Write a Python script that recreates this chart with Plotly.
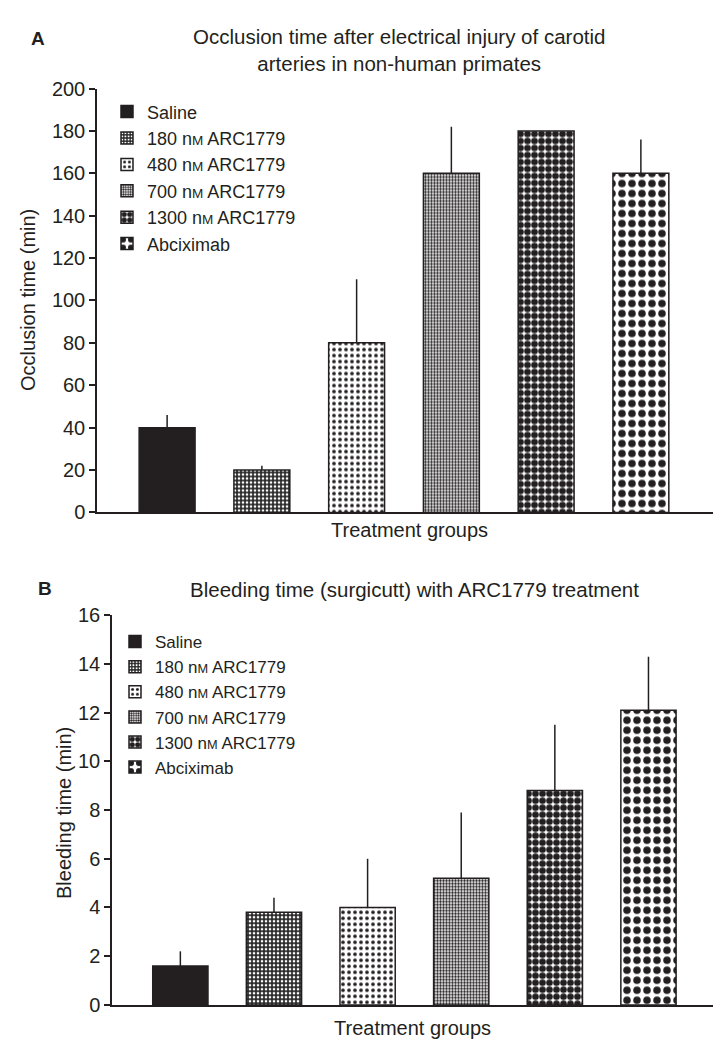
import plotly.graph_objects as go

groups = ["Saline", "180 nM ARC1779", "480 nM ARC1779", "700 nM ARC1779", "1300 nM ARC1779", "Abciximab"]
legend_labels = ["Saline", "180 n<span style='font-size:0.75em'>M</span> ARC1779",
                 "480 n<span style='font-size:0.75em'>M</span> ARC1779",
                 "700 n<span style='font-size:0.75em'>M</span> ARC1779",
                 "1300 n<span style='font-size:0.75em'>M</span> ARC1779", "Abciximab"]
occlusion_mean = [40, 20, 80, 160, 180, 160]
occlusion_sd = [6, 2, 30, 22, 0, 16]
bleeding_mean = [1.6, 3.8, 4.0, 5.2, 8.8, 12.1]
bleeding_sd = [0.6, 0.6, 2.0, 2.7, 2.7, 2.2]
occlusion_ticks = [0, 20, 40, 60, 80, 100, 120, 140, 160, 180, 200]
bleeding_ticks = [0, 2, 4, 6, 8, 10, 12, 14, 16]

DARK = "#231f20"
# pattern styles per group: (bg, fg, shape, size, solidity)
styles = [
    (DARK, DARK, "", 8, 0.2),
    ("#2a2a2a", "white", ".", 4, 0.35),
    ("white", DARK, ".", 6, 0.3),
    ("white", DARK, ".", 3, 0.5),
    ("white", DARK, ".", 7, 0.7),
    ("white", DARK, ".", 10, 0.45),
]

FONT = "Liberation Sans, Arial, sans-serif"
FS = 20

fig = go.Figure()

def add_panel(means, sds, xa, ya, legend):
    for i, g in enumerate(groups):
        bg, fg, shape, size, sol = styles[i]
        fig.add_trace(go.Bar(
            x=[i], y=[means[i]], name=legend_labels[i], legend=legend,
            width=0.59, xaxis=xa, yaxis=ya,
            marker=dict(color=bg, line=dict(color=DARK, width=1.5),
                        pattern=dict(shape=shape, fgcolor=fg, bgcolor=bg, size=size,
                                     solidity=sol, fillmode="replace")),
            error_y=dict(type="data", symmetric=False, array=[sds[i]], arrayminus=[0],
                         width=0, thickness=1.5, color=DARK, visible=sds[i] > 0),
        ))

add_panel(occlusion_mean, occlusion_sd, "x", "y", "legend")
add_panel(bleeding_mean, bleeding_sd, "x2", "y2", "legend2")

W, H = 721, 1050
axis_common = dict(showgrid=False, zeroline=False, linecolor=DARK, linewidth=1.5,
                   tickfont=dict(family=FONT, size=FS, color=DARK))

fig.update_layout(
    width=W, height=H, margin=dict(l=0, r=0, t=0, b=0),
    paper_bgcolor="white", plot_bgcolor="white", barmode="overlay",
    font=dict(family=FONT, color=DARK),
    xaxis=dict(domain=[89 / W, 1], range=[-0.74, 5.93], showticklabels=False, ticks="",
               anchor="y", **axis_common),
    yaxis=dict(domain=[(H - 504) / H, (H - 71) / H], range=[0, 200], tickvals=occlusion_ticks,
               ticks="outside", ticklen=6, tickwidth=1.5, tickcolor=DARK, anchor="x",
               **axis_common),
    xaxis2=dict(domain=[104 / W, 1], range=[-0.73, 5.86], showticklabels=False, ticks="",
                anchor="y2", **axis_common),
    yaxis2=dict(domain=[(H - 1007) / H, (H - 609) / H], range=[0, 16], tickvals=bleeding_ticks,
                ticks="outside", ticklen=6, tickwidth=1.5, tickcolor=DARK, anchor="x2",
                **axis_common),
    legend=dict(x=99 / W, y=1 - 76 / H, xanchor="left", yanchor="top",
                font=dict(family=FONT, size=18, color=DARK), tracegroupgap=0,
                itemwidth=30, bgcolor="rgba(0,0,0,0)"),
    legend2=dict(x=107 / W, y=1 - 618 / H, xanchor="left", yanchor="top",
                 font=dict(family=FONT, size=17, color=DARK), tracegroupgap=0,
                 itemwidth=30, bgcolor="rgba(0,0,0,0)"),
)

ann = [
    dict(text="<b>A</b>", x=30 / W, y=1 - 20 / H, font=dict(family=FONT, size=19)),
    dict(text="Occlusion time after electrical injury of carotid<br>arteries in non-human primates",
         x=391 / W, y=1 - 32 / H, font=dict(family=FONT, size=20.5)),
    dict(text="Occlusion time (min)", x=20 / W, y=1 - 287 / H, textangle=-90,
         font=dict(family=FONT, size=FS)),
    dict(text="Treatment groups", x=401 / W, y=1 - 522 / H, font=dict(family=FONT, size=FS)),
    dict(text="<b>B</b>", x=37 / W, y=1 - 582 / H, font=dict(family=FONT, size=19)),
    dict(text="Bleeding time (surgicutt) with ARC1779 treatment", x=406 / W, y=1 - 583 / H,
         font=dict(family=FONT, size=20.5)),
    dict(text="Bleeding time (min)", x=56 / W, y=1 - 811 / H, textangle=-90,
         font=dict(family=FONT, size=FS)),
    dict(text="Treatment groups", x=404 / W, y=1 - 1031 / H, font=dict(family=FONT, size=FS)),
]
for a in ann:
    fig.add_annotation(xref="paper", yref="paper", xanchor="center", yanchor="middle",
                       showarrow=False, **a)

fig.write_html("out.html")
